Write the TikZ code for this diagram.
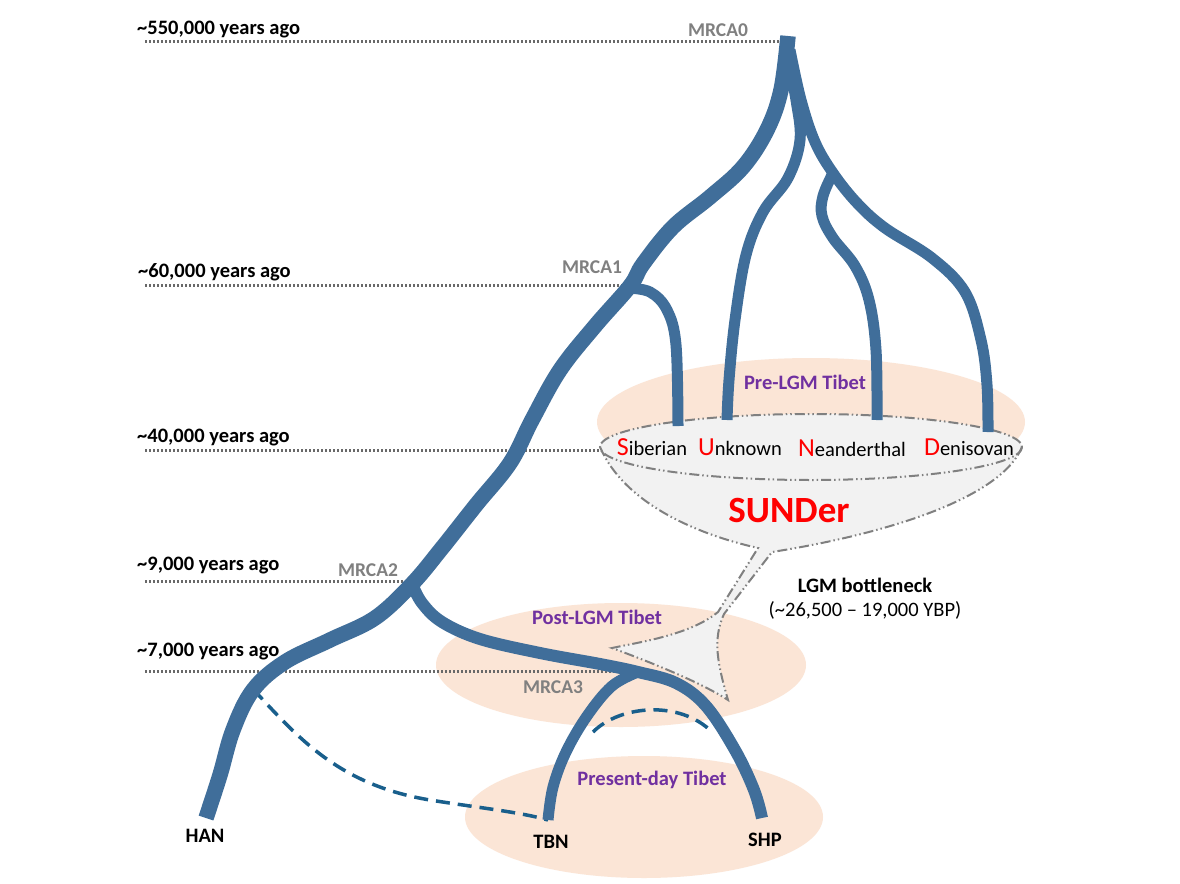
\documentclass[tikz,border=0pt]{standalone}
\usepackage{fontspec}
\setmainfont{Carlito}
\begin{document}
\begin{tikzpicture}[x=1pt,y=-1pt,
  every node/.style={inner sep=0pt,font=\fontsize{20.5}{24}\selectfont},
  branch/.style={draw=treeblue,line width=11pt,line cap=butt},
  trunk/.style={draw=treeblue,line width=15.5pt,line cap=butt},
  timeline/.style={draw=dotgray,line width=3pt,dash pattern=on 2pt off 2pt},
  funnelline/.style={draw=linegray,line width=2pt,dash pattern=on 10pt off 3pt on 1.5pt off 3pt on 1.5pt off 3pt},
  flow/.style={draw=flowblue,line width=3.5pt,dash pattern=on 14pt off 8pt},
  timelabel/.style={anchor=west,font=\fontsize{20.5}{24}\selectfont\bfseries},
  mrca/.style={text=linegray,font=\fontsize{19.5}{23}\selectfont\bfseries},
  region/.style={text=regionpurple,font=\fontsize{20.5}{24}\selectfont\bfseries},
  pop/.style={font=\fontsize{20.5}{24}\selectfont\bfseries},
  arch/.style={font=\fontsize{20.5}{24}\selectfont},
]
\definecolor{treeblue}{RGB}{64,110,154}
\definecolor{flowblue}{RGB}{25,95,140}
\definecolor{linegray}{RGB}{128,128,128}
\definecolor{dotgray}{RGB}{105,105,105}
\definecolor{peach}{RGB}{251,229,214}
\definecolor{funnelgray}{RGB}{242,242,242}
\definecolor{regionpurple}{RGB}{112,48,160}
\useasboundingbox (0,0) rectangle (1180,883);
\fill[white] (0,0) rectangle (1180,883);

% regions
\fill[peach] (811,422) ellipse [x radius=214, y radius=64];
\fill[peach] (621,665) ellipse [x radius=185, y radius=62];
\fill[peach] (644,817) ellipse [x radius=179, y radius=61];

% funnel
\fill[funnelgray] (600,447) .. controls (625,505) and (700,535) .. (758,548) -- (718,612)
  .. controls (690,635) and (640,642) .. (612,648)
  .. controls (650,662) and (700,682) .. (728,700)
  .. controls (718,665) and (712,640) .. (724,614) -- (772,552)
  .. controls (880,535) and (1000,500) .. (1022,447) -- cycle;
\fill[funnelgray] (811,447) ellipse [x radius=211, y radius=33];
\draw[funnelline] (600,447) .. controls (625,505) and (700,535) .. (758,548) -- (718,612)
  .. controls (690,635) and (640,642) .. (612,648)
  .. controls (650,662) and (700,682) .. (728,700)
  .. controls (718,665) and (712,640) .. (724,614) -- (772,552)
  .. controls (880,535) and (1000,500) .. (1022,447);
\draw[funnelline] (811,447) ellipse [x radius=211, y radius=33];

% named points
\coordinate (m0) at (788,36);
\coordinate (m1) at (630,286);
\coordinate (m2) at (412,584);
\coordinate (m3) at (638,672);
\coordinate (han) at (206,818);
\coordinate (tbn) at (548,820);
\coordinate (shp) at (762,818);
\coordinate (sib) at (678,426);
\coordinate (unk) at (727,420);
\coordinate (nea) at (877,420);
\coordinate (den) at (988,432);
\coordinate (split) at (833,173);

% time lines
\node[timelabel] (t550) at (137,30) {\textasciitilde550,000 years ago};
\node[timelabel] (t60) at (138,272) {\textasciitilde60,000 years ago};
\node[timelabel] (t40) at (137,438) {\textasciitilde40,000 years ago};
\node[timelabel] (t9) at (137,566) {\textasciitilde9,000 years ago};
\node[timelabel] (t7) at (137,652) {\textasciitilde7,000 years ago};
\coordinate (l550) at (145,42);
\coordinate (l60) at (145,285);
\coordinate (l40) at (145,450);
\coordinate (l9) at (145,581);
\coordinate (l7) at (145,671);
\draw[timeline] (l550) -- (m0 |- l550);
\draw[timeline] (l60) -- (m1 |- l60);
\draw[timeline] (l40) -- (600,450);
\draw[timeline] (l9) -- (m2 |- l9);
\draw[timeline] (l7) -- (m3 |- l7);

% dashed gene flow
\draw[flow] (253,689) .. controls (300,740) and (340,785) .. (430,800) .. controls (480,808) and (520,812) .. (tbn);
\draw[flow] (593,732) .. controls (620,705) and (680,700) .. (712,732);

% tree
\draw[trunk] plot[smooth,tension=0.6] coordinates {(m0) (781,90) (767,130) (743,167) (710,197) (673,227) (643,264) (m1) (595,326) (560,370) (532,420) (510,463) (476,505) (442,548) (m2) (375,618) (330,640) (285,662) (253,690) (233,730) (220,775) (han)};
\draw[branch] plot[smooth,tension=0.6] coordinates {(788,60) (796,100) (800,140) (788,178) (763,212) (746,255) (735,320) (729,380) (unk)};
\draw[branch] plot[smooth,tension=0.6] coordinates {(790,50) (801,100) (815,142) (split) (857,203) (885,228) (932,258) (965,292) (981,340) (987,385) (den)};
\draw[branch] plot[smooth,tension=0.6] coordinates {(split) (823,196) (822,216) (833,238) (855,266) (869,300) (876,350) (nea)};
\draw[branch] plot[smooth,tension=0.6] coordinates {(627,288) (650,292) (667,310) (676,345) (sib)};
\draw[branch] plot[smooth,tension=0.6] coordinates {(m3) (612,686) (587,716) (566,752) (553,787) (tbn)};
\draw[branch,line width=12pt] plot[smooth,tension=0.6] coordinates {(m2) (422,603) (442,622) (480,639) (540,653) (600,664) (m3) (676,683) (706,706) (735,750) (754,790) (shp)};

% labels
\node[mrca] (mrca0) at (718,30) {MRCA0};
\node[mrca] (mrca1) at (592,267) {MRCA1};
\node[mrca] (mrca2) at (368,570) {MRCA2};
\node[mrca] (mrca3) at (553,687) {MRCA3};

\node[region] (pre) at (805,382) {Pre-LGM Tibet};
\node[region] (post) at (597,617) {Post-LGM Tibet};
\node[region] (present) at (652,780) {Present-day Tibet};

\node[arch] (sibl) at (652,447) {\textcolor{red}{\fontsize{26}{28}\selectfont S}iberian};
\node[arch] (unkl) at (740,447) {\textcolor{red}{\fontsize{26}{28}\selectfont U}nknown};
\node[arch] (neal) at (852,448) {\textcolor{red}{\fontsize{26}{28}\selectfont N}eanderthal};
\node[arch] (denl) at (969,447) {\textcolor{red}{\fontsize{26}{28}\selectfont D}enisovan};
\node[text=red,font=\fontsize{37}{40}\selectfont\bfseries] (sunder) at (789,510) {SUNDer};

\node[pop] (lgm) at (865,585) {LGM bottleneck};
\node[arch] (lgmyr) at (865,610) {(\textasciitilde26,500 – 19,000 YBP)};

\node[pop] (hanl) at (205,836) {HAN};
\node[pop] (tbnl) at (551,842) {TBN};
\node[pop] (shpl) at (765,840) {SHP};
\end{tikzpicture}
\end{document}
